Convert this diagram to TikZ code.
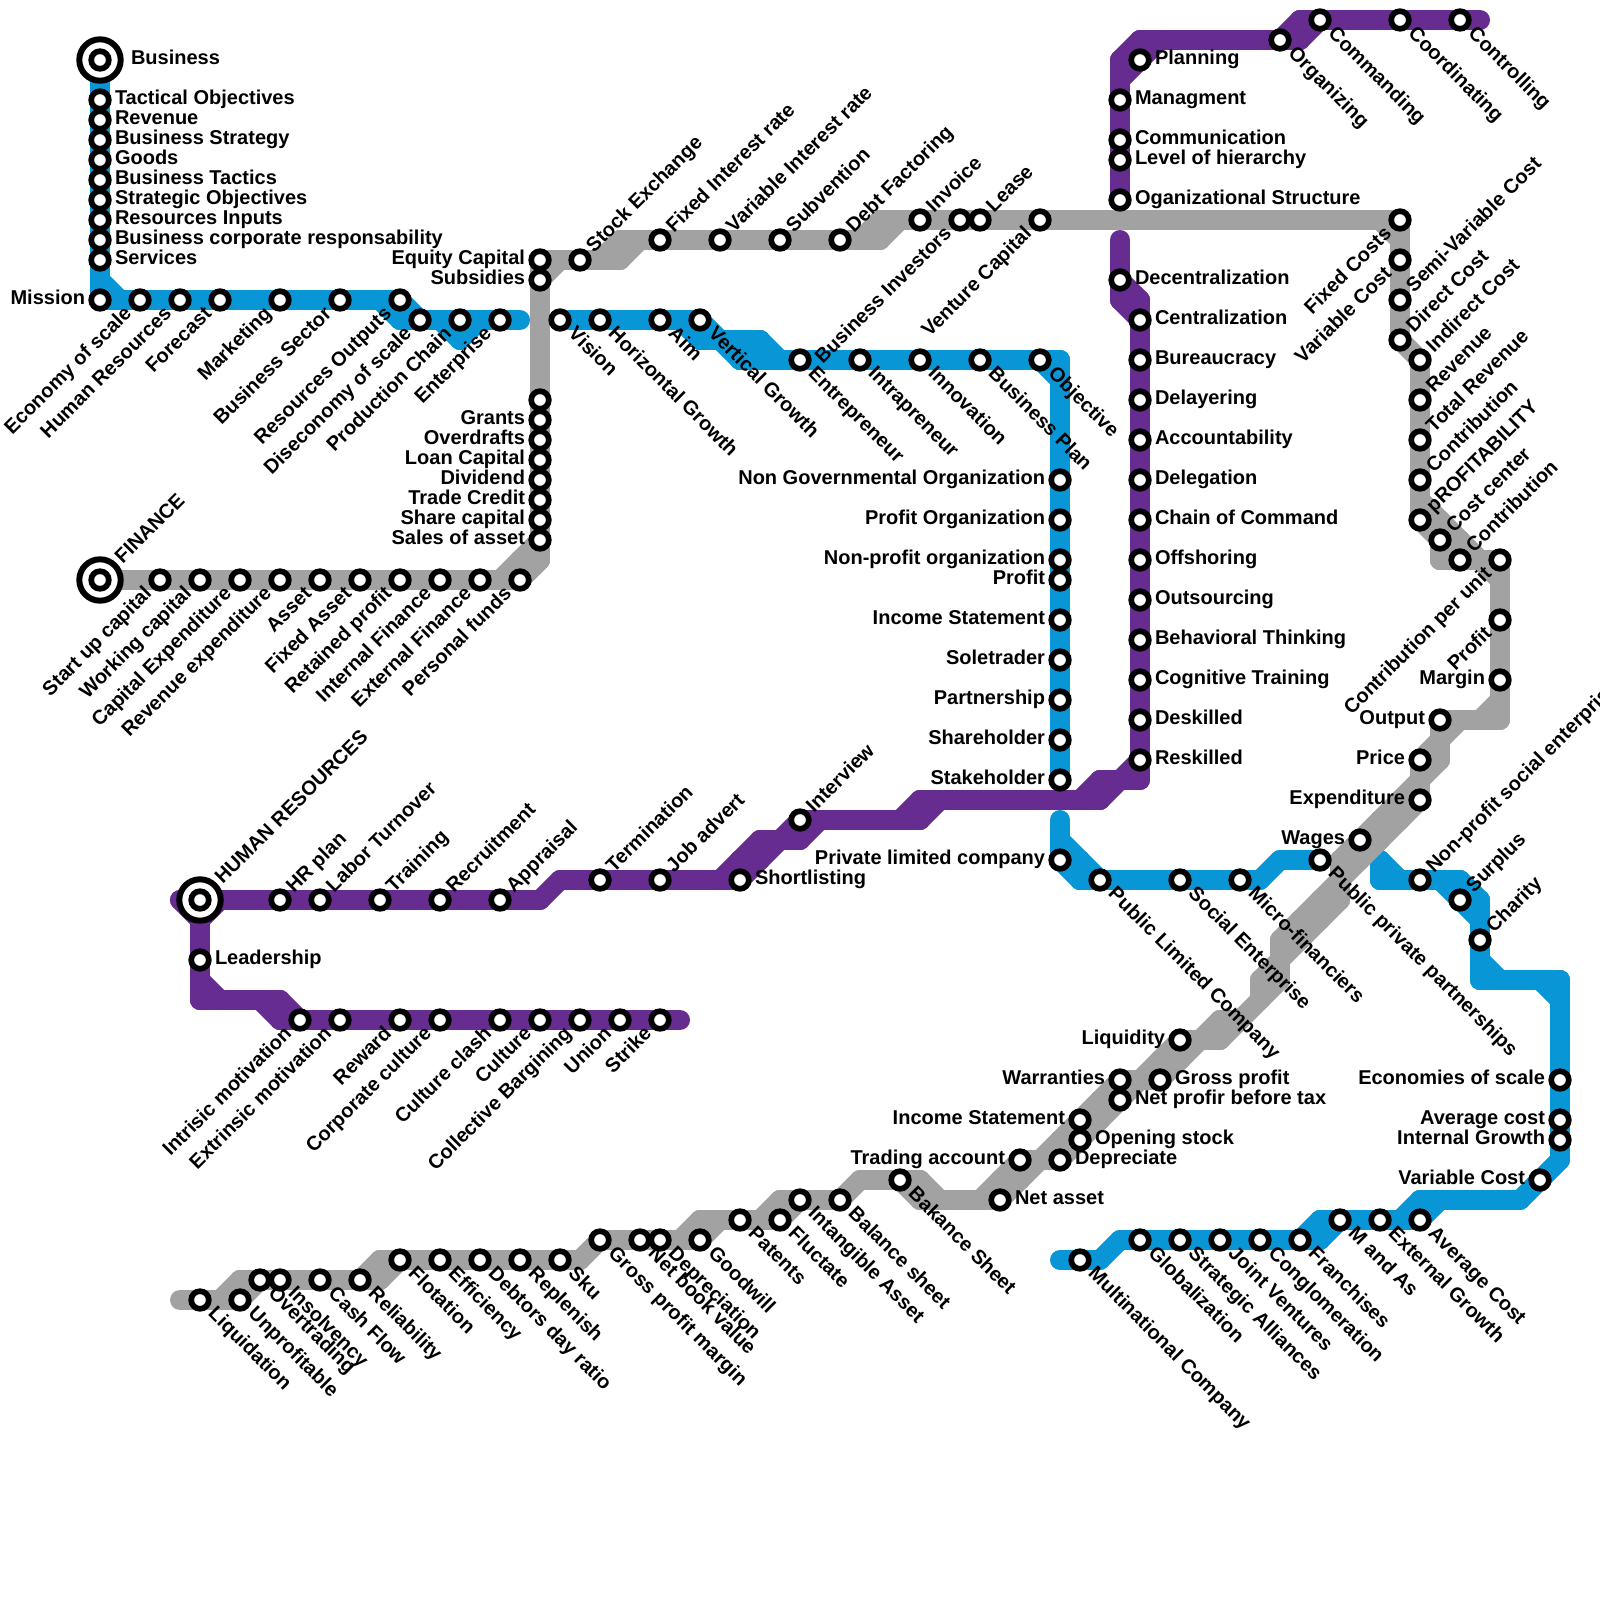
\documentclass[tikz,border=0pt]{standalone}
\usepackage{fontspec}
\setmainfont{Liberation Sans}
\definecolor{mblue}{HTML}{0896D7}
\definecolor{mpurple}{HTML}{662C90}
\definecolor{mgray}{HTML}{A2A2A2}
\tikzset{
  seg/.style={line width=10pt,line cap=round,line join=round},
  stop/.style={circle,draw=black,fill=white,line width=2.85pt,minimum size=8.8pt,inner sep=0pt,outer sep=0pt},
  hub/.style={circle,draw=black,fill=white,line width=3pt,minimum size=20.7pt,inner sep=0pt,outer sep=0pt},
  txt/.style={font=\bfseries\fontsize{10pt}{11pt}\selectfont,inner sep=0pt,outer sep=0pt,text=black},
  lr/.style={txt,anchor=mid west,xshift=7.5pt,yshift=0.2pt},
  ll/.style={txt,anchor=mid east,xshift=-7.5pt,yshift=0.2pt},
  lur/.style={txt,xshift=5.2pt,yshift=5.2pt,rotate=45,anchor=mid west},
  ldl/.style={txt,xshift=-5.6pt,yshift=-5.6pt,rotate=45,anchor=mid east},
  ldr/.style={txt,xshift=5.6pt,yshift=-5.6pt,rotate=-45,anchor=mid west},
  hubr/.style={txt,anchor=mid west,xshift=15.5pt,yshift=0.2pt},
  hubur/.style={txt,xshift=9.6pt,yshift=9.6pt,rotate=45,anchor=mid west},
}
\makeatletter
\newcommand\metroline[3]{%
  \foreach \xa/\xb/\ya/\yb in {#3}{%
    \foreach \cx in {\xa,...,\xb}{\foreach \cy in {\ya,...,\yb}{%
      \coordinate (#1-\cx-\cy) at (\cx,\cy);%
      \expandafter\gdef\csname ml@#1@\cx @\cy\endcsname{}%
    }}}%
  \foreach \xa/\xb/\ya/\yb in {#3}{%
    \foreach \cx in {\xa,...,\xb}{\foreach \cy in {\ya,...,\yb}{%
      \foreach \dx/\dy in {1/0,0/1,1/1,-1/1}{%
        \edef\nx{\the\numexpr\cx+\dx\relax}\edef\ny{\the\numexpr\cy+\dy\relax}%
        \ifcsname ml@#1@\nx @\ny\endcsname
          \draw[seg,draw=#2] (#1-\cx-\cy) -- (#1-\nx-\ny);%
        \fi
      }%
    }}}%
}
\makeatother
\newcommand\stn[4]{\node[stop] (s-#1-#2) at (#1,#2) {}; \node[#3] (l-#1-#2) at (s-#1-#2.center) {#4};}
\newcommand\stnb[2]{\node[stop] (s-#1-#2) at (#1,#2) {};}
\begin{document}
\begin{tikzpicture}[x=10pt,y=-10pt]
\useasboundingbox (0,0) rectangle (80,80);
% lines
\metroline{ba}{mblue}{5/5/3/15,5/20/15/15,20/26/16/16,23/23/17/17}
\metroline{bb}{mblue}{28/35/16/16,35/38/17/17,37/53/18/18,53/53/18/39}
\metroline{bc}{mblue}{53/53/41/43,54/54/43/44,54/63/44/44,64/66/43/43}
\metroline{bd}{mblue}{69/69/43/44,69/73/44/44,73/73/45/45,74/74/45/49,74/78/49/49,78/78/49/58,77/77/59/59,71/76/60/60,66/71/61/61,56/66/62/62,53/55/63/63}
\metroline{pa}{mpurple}{9/27/45/45,28/37/44/44,37/38/43/43,38/40/42/42,40/46/41/41,46/55/40/40,55/57/39/39,57/57/15/39,56/56/12/15,10/10/45/50,10/14/50/50,14/34/51/51}
\metroline{pt}{mpurple}{56/56/3/10,57/65/2/2,57/57/3/3,65/74/1/1}
\metroline{ga}{mgray}{6/26/29/29,26/27/28/28,27/27/13/28,27/31/13/13,31/44/12/12,44/70/11/11,70/70/11/17,71/71/18/26,72/72/26/28,73/73/27/27,72/75/28/28,75/75/28/36,72/75/36/36,72/72/37/38,71/71/38/40,70/70/40/41,69/69/41/42,68/68/42/43,67/67/43/45,66/66/45/46,65/65/46/47,64/64/47/49,63/63/49/50,61/62/51/51,59/61/52/52,58/59/53/53,56/58/54/54,55/56/55/55,54/55/56/56,53/54/57/57,51/53/58/58,50/51/59/59,46/50/60/60,43/46/59/59,39/42/60/60,35/39/61/61,30/35/62/62,19/29/63/63,12/19/64/64,9/12/65/65}
% hubs
\node[hub] (hub-business) at (5,3) {}; \node[stop] (hubin-business) at (5,3) {};
\node[hubr] (lab-business) at (hub-business.center) {Business};
\node[hub] (hub-finance) at (5,29) {}; \node[stop] (hubin-finance) at (5,29) {};
\node[hubur] (lab-finance) at (hub-finance.center) {FINANCE};
\node[hub] (hub-hr) at (10,45) {}; \node[stop] (hubin-hr) at (10,45) {};
\node[hubur] (lab-hr) at (hub-hr.center) {HUMAN RESOURCES};
% blue A
\stn{5}{5}{lr}{Tactical Objectives}
\stn{5}{6}{lr}{Revenue}
\stn{5}{7}{lr}{Business Strategy}
\stn{5}{8}{lr}{Goods}
\stn{5}{9}{lr}{Business Tactics}
\stn{5}{10}{lr}{Strategic Objectives}
\stn{5}{11}{lr}{Resources Inputs}
\stn{5}{12}{lr}{Business corporate responsability}
\stn{5}{13}{lr}{Services}
\stn{5}{15}{ll}{Mission}
\stn{7}{15}{ldl}{Economy of scale}
\stn{9}{15}{ldl}{Human Resources}
\stn{11}{15}{ldl}{Forecast}
\stn{14}{15}{ldl}{Marketing}
\stn{17}{15}{ldl}{Business Sector}
\stn{20}{15}{ldl}{Resources Outputs}
\stn{21}{16}{ldl}{Diseconomy of scale}
\stn{23}{16}{ldl}{Production Chain}
\stn{25}{16}{ldl}{Enterprise}
% finance
\stn{8}{29}{ldl}{Start up capital}
\stn{10}{29}{ldl}{Working capital}
\stn{12}{29}{ldl}{Capital Expenditure}
\stn{14}{29}{ldl}{Revenue expenditure}
\stn{16}{29}{ldl}{Asset}
\stn{18}{29}{ldl}{Fixed Asset}
\stn{20}{29}{ldl}{Retained profit}
\stn{22}{29}{ldl}{Internal Finance}
\stn{24}{29}{ldl}{External Finance}
\stn{26}{29}{ldl}{Personal funds}
\stn{27}{27}{ll}{Sales of asset}
\stn{27}{26}{ll}{Share capital}
\stn{27}{25}{ll}{Trade Credit}
\stn{27}{24}{ll}{Dividend}
\stn{27}{23}{ll}{Loan Capital}
\stn{27}{22}{ll}{Overdrafts}
\stn{27}{21}{ll}{Grants}
\stnb{27}{20}
\stn{27}{14}{ll}{Subsidies}
\stn{27}{13}{ll}{Equity Capital}
\stn{29}{13}{lur}{Stock Exchange}
\stn{33}{12}{lur}{Fixed Interest rate}
\stn{36}{12}{lur}{Variable Interest rate}
\stn{39}{12}{lur}{Subvention}
\stn{42}{12}{lur}{Debt Factoring}
\stn{46}{11}{lur}{Invoice}
\stn{48}{11}{ldl}{Business Investors}
\stn{49}{11}{lur}{Lease}
\stn{52}{11}{ldl}{Venture Capital}
\stn{70}{11}{ldl}{Fixed Costs}
\stn{70}{13}{ldl}{Variable Cost}
\stn{70}{15}{lur}{Semi-Variable Cost}
\stn{70}{17}{lur}{Direct Cost}
\stn{71}{18}{lur}{Indirect Cost}
\stn{71}{20}{lur}{Revenue}
\stn{71}{22}{lur}{Total Revenue}
\stn{71}{24}{lur}{Contribution}
\stn{71}{26}{lur}{pROFITABILITY}
\stn{72}{27}{lur}{Cost center}
\stn{73}{28}{lur}{Contribution}
\stn{75}{28}{ldl}{Contribution per unit}
\stn{75}{31}{ldl}{Profit}
\stn{75}{34}{ll}{Margin}
\stn{72}{36}{ll}{Output}
\stn{71}{38}{ll}{Price}
\stn{71}{40}{ll}{Expenditure}
\stn{68}{42}{ll}{Wages}
\stn{59}{52}{ll}{Liquidity}
\stn{56}{54}{ll}{Warranties}
\stn{56}{55}{lr}{Net profir before tax}
\stn{58}{54}{lr}{Gross profit}
\stn{54}{56}{ll}{Income Statement}
\stn{54}{57}{lr}{Opening stock}
\stn{51}{58}{ll}{Trading account}
\stn{53}{58}{lr}{Depreciate}
\stn{50}{60}{lr}{Net asset}
\stn{45}{59}{ldr}{Bakance Sheet}
\stn{42}{60}{ldr}{Balance sheet}
\stn{40}{60}{ldr}{Intangible Asset}
\stn{39}{61}{ldr}{Fluctate}
\stn{37}{61}{ldr}{Patents}
\stn{35}{62}{ldr}{Goodwill}
\stn{33}{62}{ldr}{Depreciation}
\stn{32}{62}{ldr}{Net book value}
\stn{30}{62}{ldr}{Gross profit margin}
\stn{28}{63}{ldr}{Sku}
\stn{26}{63}{ldr}{Replenish}
\stn{24}{63}{ldr}{Debtors day ratio}
\stn{22}{63}{ldr}{Efficiency}
\stn{20}{63}{ldr}{Flotation}
\stn{18}{64}{ldr}{Reliability}
\stn{16}{64}{ldr}{Cash Flow}
\stn{14}{64}{ldr}{Insolvency}
\stn{13}{64}{ldr}{Overtrading}
\stn{12}{65}{ldr}{Unprofitable}
\stn{10}{65}{ldr}{Liquidation}
% blue B
\stn{28}{16}{ldr}{Vision}
\stn{30}{16}{ldr}{Horizontal Growth}
\stn{33}{16}{ldr}{Aim}
\stn{35}{16}{ldr}{Vertical Growth}
\stn{40}{18}{ldr}{Entrepreneur}
\stn{43}{18}{ldr}{Intrapreneur}
\stn{46}{18}{ldr}{Innovation}
\stn{49}{18}{ldr}{Business Plan}
\stn{52}{18}{ldr}{Objective}
\stn{53}{24}{ll}{Non Governmental Organization}
\stn{53}{26}{ll}{Profit Organization}
\stn{53}{28}{ll}{Non-profit organization}
\stn{53}{29}{ll}{Profit}
\stn{53}{31}{ll}{Income Statement}
\stn{53}{33}{ll}{Soletrader}
\stn{53}{35}{ll}{Partnership}
\stn{53}{37}{ll}{Shareholder}
\stn{53}{39}{ll}{Stakeholder}
% blue C, D
\stn{53}{43}{ll}{Private limited company}
\stn{55}{44}{ldr}{Public Limited Company}
\stn{59}{44}{ldr}{Social Enterprise}
\stn{62}{44}{ldr}{Micro-financiers}
\stn{66}{43}{ldr}{Public private partnerships}
\stn{71}{44}{lur}{Non-profit social enterprise}
\stn{73}{45}{lur}{Surplus}
\stn{74}{47}{lur}{Charity}
\stn{78}{54}{ll}{Economies of scale}
\stn{78}{56}{ll}{Average cost}
\stn{78}{57}{ll}{Internal Growth}
\stn{77}{59}{ll}{Variable Cost}
\stn{71}{61}{ldr}{Average Cost}
\stn{69}{61}{ldr}{External Growth}
\stn{67}{61}{ldr}{M and As}
\stn{65}{62}{ldr}{Franchises}
\stn{63}{62}{ldr}{Conglomeration}
\stn{61}{62}{ldr}{Joint Ventures}
\stn{59}{62}{ldr}{Strategic Alliances}
\stn{57}{62}{ldr}{Globalization}
\stn{54}{63}{ldr}{Multinational Company}
% purple
\stn{14}{45}{lur}{HR plan}
\stn{16}{45}{lur}{Labor Turnover}
\stn{19}{45}{lur}{Training}
\stn{22}{45}{lur}{Recruitment}
\stn{25}{45}{lur}{Appraisal}
\stn{30}{44}{lur}{Termination}
\stn{33}{44}{lur}{Job advert}
\stn{37}{44}{lr}{Shortlisting}
\stn{40}{41}{lur}{Interview}
\stn{10}{48}{lr}{Leadership}
\stn{15}{51}{ldl}{Intrisic motivation}
\stn{17}{51}{ldl}{Extrinsic motivation}
\stn{20}{51}{ldl}{Reward}
\stn{22}{51}{ldl}{Corporate culture}
\stn{25}{51}{ldl}{Culture clash}
\stn{27}{51}{ldl}{Culture}
\stn{29}{51}{ldl}{Collective Bargining}
\stn{31}{51}{ldl}{Union}
\stn{33}{51}{ldl}{Strike}
\stn{57}{3}{lr}{Planning}
\stn{56}{5}{lr}{Managment}
\stn{56}{7}{lr}{Communication}
\stn{56}{8}{lr}{Level of hierarchy}
\stn{56}{10}{lr}{Oganizational Structure}
\stn{56}{14}{lr}{Decentralization}
\stn{57}{16}{lr}{Centralization}
\stn{57}{18}{lr}{Bureaucracy}
\stn{57}{20}{lr}{Delayering}
\stn{57}{22}{lr}{Accountability}
\stn{57}{24}{lr}{Delegation}
\stn{57}{26}{lr}{Chain of Command}
\stn{57}{28}{lr}{Offshoring}
\stn{57}{30}{lr}{Outsourcing}
\stn{57}{32}{lr}{Behavioral Thinking}
\stn{57}{34}{lr}{Cognitive Training}
\stn{57}{36}{lr}{Deskilled}
\stn{57}{38}{lr}{Reskilled}
\stn{64}{2}{ldr}{Organizing}
\stn{66}{1}{ldr}{Commanding}
\stn{70}{1}{ldr}{Coordinating}
\stn{73}{1}{ldr}{Controlling}
\end{tikzpicture}
\end{document}
